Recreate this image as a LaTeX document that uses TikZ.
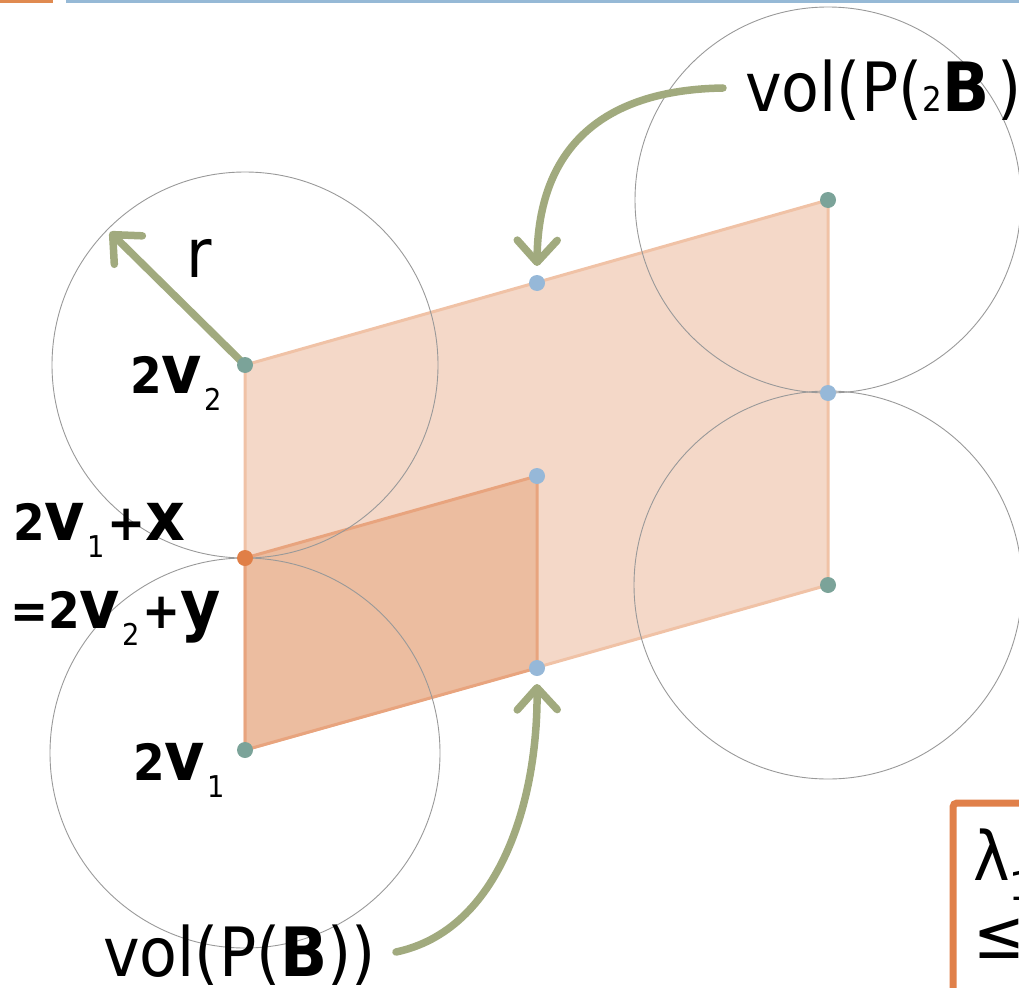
\documentclass[tikz,border=0pt]{standalone}
\usepackage{fontspec}
\setmainfont{DejaVu Sans}[FakeStretch=0.91]
\usetikzlibrary{arrows.meta}
\definecolor{olive}{HTML}{A1AA7E}
\definecolor{bigfill}{HTML}{F4D8C8}
\definecolor{bigedge}{HTML}{F0C2A6}
\definecolor{smallfill}{HTML}{ECBDA0}
\definecolor{smalledge}{HTML}{E8A47E}
\definecolor{dotgreen}{HTML}{7BA399}
\definecolor{dotblue}{HTML}{96B8D8}
\definecolor{dotorange}{HTML}{E07F47}
\definecolor{barorange}{HTML}{E08A50}
\definecolor{barblue}{HTML}{96B9D6}
\definecolor{boxorange}{HTML}{E0804A}
\definecolor{circgray}{HTML}{999999}
\newcommand{\mainsz}{\fontsize{50}{60}\selectfont}
\newcommand{\bigsz}{\fontsize{68}{80}\selectfont}
\newcommand{\subsz}{\fontsize{30}{36}\selectfont}
\newcommand{\bvec}[1]{{\bigsz\bfseries #1}}
\newcommand{\lsub}[1]{\kern2pt\raisebox{-17pt}{\subsz\mdseries #1}\kern3pt}
\tikzset{
  x=1pt, y=-1pt,
  dot/.style={circle, inner sep=0pt, minimum size=16pt, fill=#1},
  lbl/.style={anchor=base west, inner sep=0pt, font=\mainsz\bfseries},
  big/.style={anchor=base west, inner sep=0pt, font=\bigsz},
  ring/.style={draw=circgray, line width=0.9pt},
  pointer/.style={draw=olive, line width=7.5pt, line cap=round,
    -{Straight Barb[length=22pt, width=40pt, line cap=round, line join=round]}},
}
\begin{document}
\begin{tikzpicture}
\useasboundingbox (0,0) rectangle (1019,987);
\clip (0,0) rectangle (1019,987);
% top bars
\fill[barorange] (0,0) rectangle (53,3.5);
\fill[barblue] (66,0) rectangle (1019,3.5);
% lattice points
\coordinate (v1) at (245,750);
\coordinate (v2) at (245,365);
\coordinate (m) at (245,558);
\coordinate (b1) at (537,668);
\coordinate (b2) at (537,476);
\coordinate (b3) at (537,283);
\coordinate (b4) at (828,393);
\coordinate (g1) at (828,585);
\coordinate (g2) at (828,200);
\coordinate (rtip) at (110,232);
% parallelograms
\filldraw[fill=bigfill, draw=bigedge, line width=3pt, line join=round]
  (v1) -- (g1) -- (g2) -- (v2) -- cycle;
\filldraw[fill=smallfill, draw=smalledge, line width=3pt, line join=round]
  (v1) -- (b1) -- (b2) -- (m) -- cycle;
% circles
\draw[ring] (v2) circle[radius=193];
\draw[ring] (245,753) circle[radius=195];
\draw[ring] (g2) circle[radius=193];
\draw[ring] (g1) circle[radius=194];
% lambda box
\draw[boxorange, line width=7pt, rounded corners=4pt] (953,803) rectangle (1200,1200);
\node[big] (lam) at (973,880) {λ\raisebox{-20pt}{\fontsize{40}{48}\selectfont 1}};
\node[big] (leq) at (973,958) {≤};
% labels
\node[big] (vol2) at (745,112) {vol(P({\fontsize{34}{40}\selectfont 2}\textbf{B}\kern8pt)};
\node[big] (vol1) at (103,976) {vol(P(\textbf{B}))};
\node[big] (rl) at (186,277) {r};
\node[lbl] (l2v2) at (130,393) {2\bvec{v}\lsub{2}};
\node[lbl] (l2v1x) at (13,540) {2\bvec{v}\lsub{1}+\bvec{x}};
\node[lbl] (l2v2y) at (10,628) {=2\bvec{v}\lsub{2}+\bvec{y}};
\node[lbl] (l2v1) at (133,780) {2\bvec{v}\lsub{1}};
% arrows
\draw[pointer] (v2) -- (rtip);
\coordinate (s2) at (723,88);
\coordinate (e2) at (537,266);
\draw[pointer] (s2) .. controls (600,90) and (538,150) .. (e2);
\coordinate (s1) at (396,952);
\coordinate (e1) at (537,684);
\draw[pointer] (s1) .. controls (500,930) and (538,800) .. (e1);
% dots
\node[dot=dotgreen] (n1) at (v1) {};
\node[dot=dotgreen] (n2) at (v2) {};
\node[dot=dotorange] (n3) at (m) {};
\node[dot=dotblue] (n4) at (b1) {};
\node[dot=dotblue] (n5) at (b2) {};
\node[dot=dotblue] (n6) at (b3) {};
\node[dot=dotblue] (n7) at (b4) {};
\node[dot=dotgreen] (n8) at (g1) {};
\node[dot=dotgreen] (n9) at (g2) {};
\end{tikzpicture}
\end{document}
